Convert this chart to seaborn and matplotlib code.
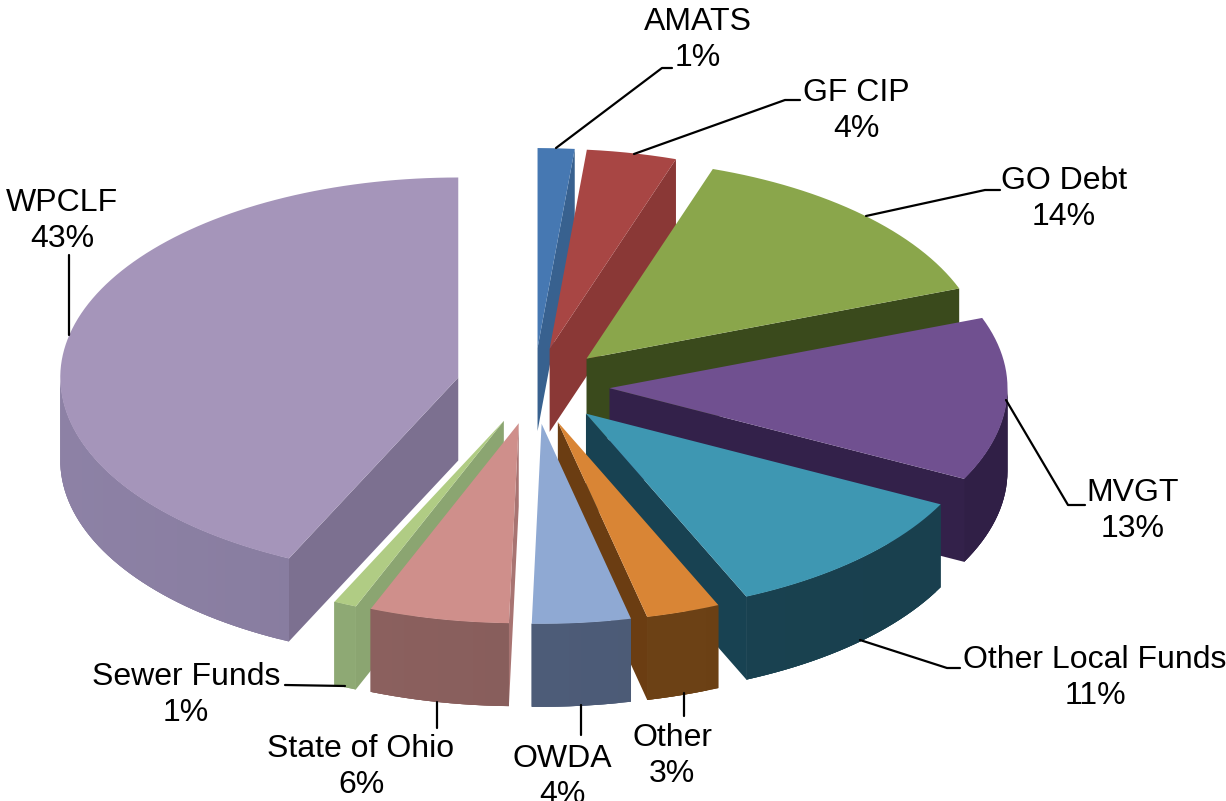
import numpy as np
import seaborn as sns
import matplotlib
matplotlib.use("Agg")
import matplotlib.pyplot as plt

# Data
names = ["AMATS", "GF CIP", "GO Debt", "MVGT", "Other Local Funds",
         "Other", "OWDA", "State of Ohio", "Sewer Funds", "WPCLF"]
shares = [1.49, 3.65, 14.15, 13.2, 10.9, 3.0, 4.0, 5.67, 0.93, 43.0]
explode = [0.19, 0.19, 0.19, 0.19, 0.19, 0.19, 0.19, 0.19, 0.19, 0.195]

top_colors = ["#4678b2", "#a84644", "#8aa64b", "#705090", "#3e97b2",
              "#d98535", "#8fa9d3", "#cf8f8b", "#b0cc84", "#a595ba"]
rim_colors = ["#38618f", "#8a3836", "#3a4a1c", "#33214a", "#1a4352",
              "#6e4215", "#4d5c78", "#885e5c", "#8ba571", "#857a9c"]
cut_colors = ["#38618f", "#8a3836", "#3a4a1c", "#33214a", "#184252",
              "#6b3d12", "#4d5c78", "#a87472", "#8ba571", "#7c7090"]

# label centres and leader lines, in pixels of the picture
label_x = [698, 856, 1064, 1133, 1095, 672, 562, 361, 186, 62]
label_y = [40, 111, 199, 511, 678, 756, 777, 767, 695, 221]
leader_x = [[556, 662, 672], [634, 785, 800], [866, 985, 1000], [1006, 1068, 1085],
            [860, 947, 960], [684, 684], [581, 581], [437, 437], [345, 285], [69, 69]]
leader_y = [[148, 68, 68], [154, 100, 100], [216, 190, 190], [400, 505, 505],
            [640, 668, 668], [693, 716], [705, 735], [702, 728], [686, 685], [335, 255]]

CX, CY = 534, 386
RX, RY = 398, 200
DEPTH = 83


def point(theta, ox, oy):
    return ox + RX * np.sin(theta), oy - RY * np.cos(theta)


def shade(color, factor):
    rgb = np.array(matplotlib.colors.to_rgb(color)) * factor
    return tuple(np.clip(rgb, 0, 1))


def draw_slice(ax, start, end, pull, top, rim, cut):
    mid = (start + end) / 2
    ox, oy = point(mid, CX, CY)
    ox = CX + pull * (ox - CX)
    oy = CY + pull * (oy - CY)
    thetas = np.linspace(start, end, max(3, int(np.degrees(end - start) / 1.5)))
    xs, ys = point(thetas, ox, oy)

    # radial cut faces, only the one turned to the viewer
    for angle, visible in ((start, np.sin(start) < 0), (end, np.sin(end) > 0)):
        if visible:
            ex, ey = point(angle, ox, oy)
            ax.fill([ox, ex, ex, ox], [oy, ey, ey + DEPTH, oy + DEPTH],
                    color=cut, lw=0)

    # outer rim, front half only: solid base, then shaded overlapping strips
    front = thetas[np.cos(thetas) < 0]
    if len(front) > 1:
        fx, fy = point(front, ox, oy)
        ax.fill(np.r_[fx, fx[::-1]], np.r_[fy, fy[::-1] + DEPTH], color=rim, lw=0)
        for a, b in zip(front[:-1], np.r_[front[2:], front[-1]]):
            x0, y0 = point(a, ox, oy)
            x1, y1 = point(b, ox, oy)
            ax.fill([x0, x1, x1, x0], [y0, y1, y1 + DEPTH, y0 + DEPTH],
                    color=shade(rim, 1 - 0.06 * np.sin(a)), lw=0)
    ax.fill(np.r_[ox, xs], np.r_[oy, ys], color=top, lw=0)


sns.set_theme(style="white")
plt.rcParams["font.family"] = ["Liberation Sans", "DejaVu Sans"]

fig, ax = plt.subplots(figsize=(12.26, 8.01), dpi=100)
ax.set_position([0, 0, 1, 1])
ax.axis("off")

tops = sns.color_palette(top_colors)
fractions = np.array(shares) / sum(shares) * 2 * np.pi
ends = np.cumsum(fractions)
starts = ends - fractions

# back slices first so the front ones cover them
order = np.argsort(-np.cos((starts + ends) / 2))
for i in order:
    draw_slice(ax, starts[i], ends[i], explode[i], tops[i], rim_colors[i], cut_colors[i])

for xs, ys in zip(leader_x, leader_y):
    sns.lineplot(x=xs, y=ys, sort=False, estimator=None, color="black",
                 linewidth=1.6, ax=ax, legend=False)

for name, share, x, y in zip(names, shares, label_x, label_y):
    ax.text(x, y, f"{name}\n{share:.0f}%", ha="center", va="center",
            fontsize=23.0, color="black", linespacing=1.27)

ax.set_xlim(0, 1226)
ax.set_ylim(801, 0)
fig.savefig("out.png", dpi=100)
